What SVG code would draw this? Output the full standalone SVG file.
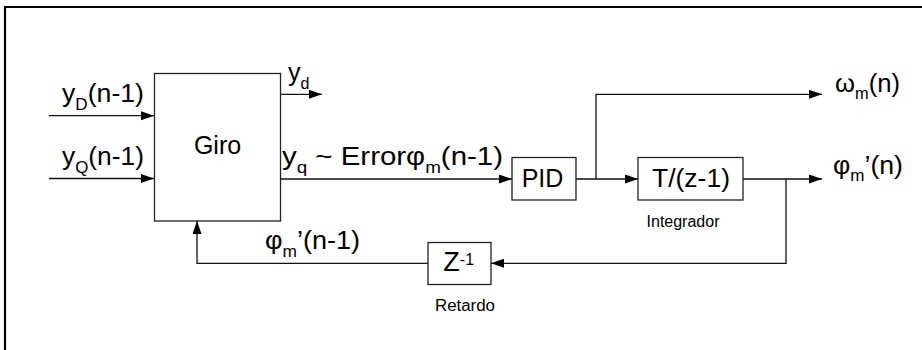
<svg xmlns="http://www.w3.org/2000/svg" width="922" height="350" viewBox="0 0 922 350">
<style>
.blk{fill:#fff;stroke:#222;stroke-width:1.3}
.ln{fill:none;stroke:#111;stroke-width:1.3}
.t{font-family:"Liberation Sans",Arial,sans-serif;font-size:25px;fill:#000}
.s{font-size:16px}
.sm{font-family:"Liberation Sans",Arial,sans-serif;font-size:16px;fill:#000}
</style>
<defs>
<marker id="ah" markerUnits="userSpaceOnUse" markerWidth="14" markerHeight="10" refX="13" refY="4.5" orient="auto">
<path d="M0,0 L13,4.5 L0,9 z" fill="#000"/>
</marker>
</defs>
<rect width="922" height="350" fill="#fff"/>
<path d="M5,350 V7 H922" fill="none" stroke="#000" stroke-width="2.2"/>

<g id="connectors">
<path class="ln" d="M49,115.7 H154" marker-end="url(#ah)"/>
<path class="ln" d="M49,178.5 H154" marker-end="url(#ah)"/>
<path class="ln" d="M280.5,94.3 H322" marker-end="url(#ah)"/>
<path class="ln" d="M280.5,179 H512" marker-end="url(#ah)"/>
<path class="ln" d="M576,179 H638" marker-end="url(#ah)"/>
<path class="ln" d="M596,179 V94.3 H822" marker-end="url(#ah)"/>
<path class="ln" d="M743,179 H822" marker-end="url(#ah)"/>
<path class="ln" d="M786,179 V263.3 H491" marker-end="url(#ah)"/>
<path class="ln" d="M428,263.3 H197 V221" marker-end="url(#ah)"/>
</g>

<g id="giro">
<rect class="blk" x="154.5" y="73.5" width="126" height="147.5"/>
<text class="t" x="217.5" y="154" text-anchor="middle">Giro</text>
</g>
<g id="pid">
<rect class="blk" x="512" y="157.5" width="64" height="42.5"/>
<text class="t" x="542.5" y="187" text-anchor="middle">PID</text>
</g>
<g id="integrador">
<rect class="blk" x="638" y="157.5" width="105" height="42.5"/>
<text class="t" x="691" y="187" text-anchor="middle" textLength="78" lengthAdjust="spacingAndGlyphs">T/(z-1)</text>
<text class="sm" x="683" y="227" text-anchor="middle">Integrador</text>
</g>
<g id="retardo">
<rect class="blk" x="428" y="242.5" width="63" height="42"/>
<text class="t" x="443.3" y="271" style="font-size:27px">Z<tspan class="s" dy="-6">-1</tspan></text>
<text class="sm" x="465" y="311" text-anchor="middle" textLength="60" lengthAdjust="spacingAndGlyphs">Retardo</text>
</g>

<g id="labels">
<text class="t" x="62" y="102" textLength="82" lengthAdjust="spacingAndGlyphs">y<tspan class="s" dy="8">D</tspan><tspan dy="-8">(n-1)</tspan></text>
<text class="t" x="62" y="165" textLength="82" lengthAdjust="spacingAndGlyphs">y<tspan class="s" dy="8">Q</tspan><tspan dy="-8">(n-1)</tspan></text>
<text class="t" x="288" y="81">y<tspan class="s" dy="8">d</tspan></text>
<text class="t" x="282" y="165" textLength="221" lengthAdjust="spacingAndGlyphs">y<tspan class="s" dy="8">q</tspan><tspan dy="-8"> ~ Errorφ</tspan><tspan class="s" dy="8">m</tspan><tspan dy="-8">(n-1)</tspan></text>
<text class="t" x="265" y="249" textLength="95" lengthAdjust="spacingAndGlyphs">φ<tspan class="s" dy="8">m</tspan><tspan dy="-8">’(n-1)</tspan></text>
<text class="t" x="835" y="92" textLength="65" lengthAdjust="spacingAndGlyphs">ω<tspan class="s" dy="7">m</tspan><tspan dy="-7">(n)</tspan></text>
<text class="t" x="833" y="174" textLength="70" lengthAdjust="spacingAndGlyphs">φ<tspan class="s" dy="7">m</tspan><tspan dy="-7">’(n)</tspan></text>
</g>
</svg>
